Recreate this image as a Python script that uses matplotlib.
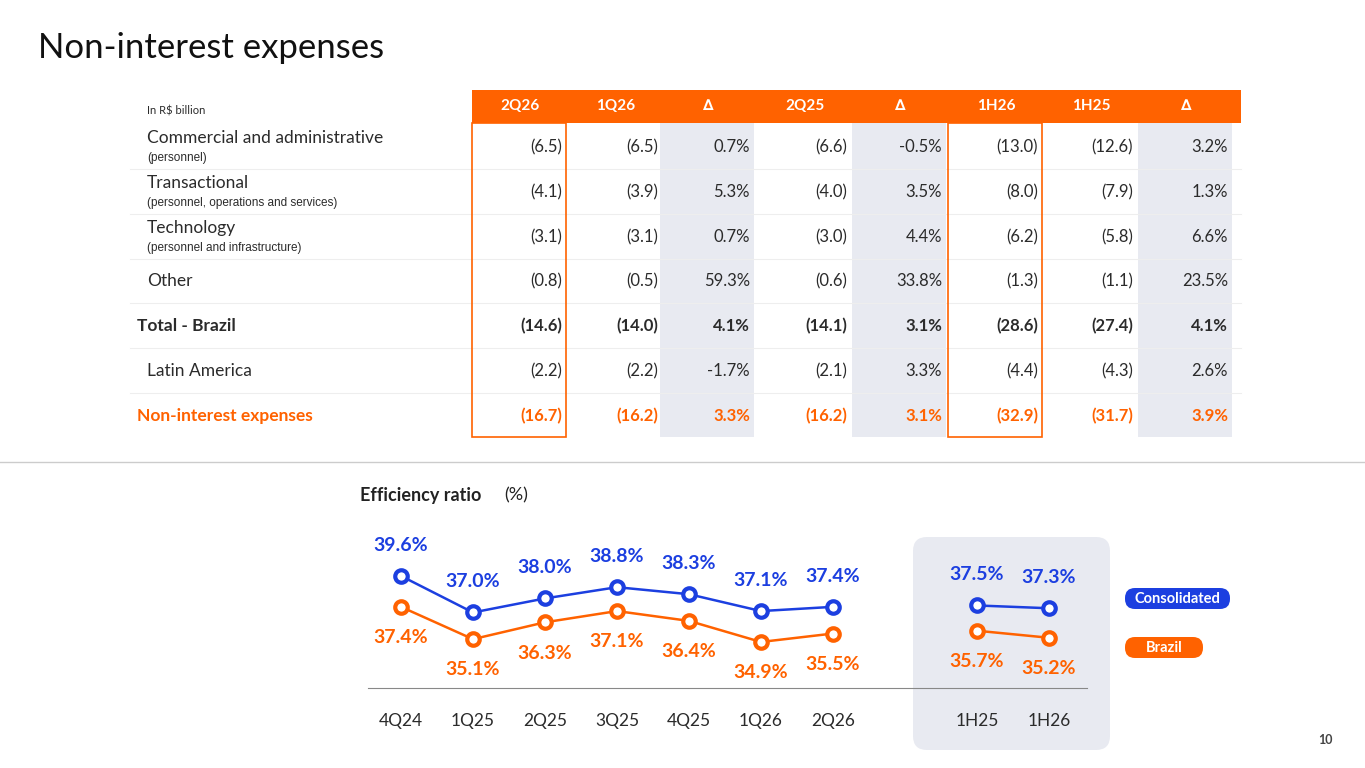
import matplotlib.pyplot as plt
from matplotlib.patches import Rectangle, FancyBboxPatch

ORANGE = '#ff6200'
BLUE = '#1c3fe0'
GREY = '#e8eaf1'
TXT = '#2b2b2b'
plt.rcParams['font.family'] = ['Lato', 'DejaVu Sans']

# table data
headers = ['2Q26', '1Q26', '∆', '2Q25', '∆', '1H26', '1H25', '∆']
row_labels = ['Commercial and administrative', 'Transactional', 'Technology', 'Other',
              'Total - Brazil', 'Latin America', 'Non-interest expenses']
row_subs = ['(personnel)', '(personnel, operations and services)', '(personnel and infrastructure)',
            '', '', '', '']
q2_26 = [-6.5, -4.1, -3.1, -0.8, -14.6, -2.2, -16.7]
q1_26 = [-6.5, -3.9, -3.1, -0.5, -14.0, -2.2, -16.2]
d_q = [0.7, 5.3, 0.7, 59.3, 4.1, -1.7, 3.3]
q2_25 = [-6.6, -4.0, -3.0, -0.6, -14.1, -2.1, -16.2]
d_y = [-0.5, 3.5, 4.4, 33.8, 3.1, 3.3, 3.1]
h1_26 = [-13.0, -8.0, -6.2, -1.3, -28.6, -4.4, -32.9]
h1_25 = [-12.6, -7.9, -5.8, -1.1, -27.4, -4.3, -31.7]
d_h = [3.2, 1.3, 6.6, 23.5, 4.1, 2.6, 3.9]
columns = [q2_26, q1_26, d_q, q2_25, d_y, h1_26, h1_25, d_h]
is_pct = [False, False, True, False, True, False, False, True]

# efficiency ratio data
periods = ['4Q24', '1Q25', '2Q25', '3Q25', '4Q25', '1Q26', '2Q26', '1H25', '1H26']
x_pos = [0, 1, 2, 3, 4, 5, 6, 8, 9]
consolidated = [39.6, 37.0, 38.0, 38.8, 38.3, 37.1, 37.4, 37.5, 37.3]
brazil = [37.4, 35.1, 36.3, 37.1, 36.4, 34.9, 35.5, 35.7, 35.2]

fig = plt.figure(figsize=(13.65, 7.68), dpi=100)
ov = fig.add_axes([0, 0, 1, 1])
ov.set_xlim(0, 1365)
ov.set_ylim(768, 0)
ov.axis('off')

ov.text(38, 48, 'Non-interest expenses', fontsize=25, color='#111', va='center')

# header
col_left = [472, 568, 660, 757, 852, 948, 1043, 1138]
col_w = 96
ov.add_patch(Rectangle((472, 90), 1241 - 472, 33, color=ORANGE, lw=0))
ov.text(147, 111, 'In R$ billion', fontsize=8, color=TXT, va='center')
for h, l in zip(headers, col_left):
    ov.text(l + col_w / 2, 106, h, color='white', fontsize=11, fontweight='bold',
            ha='center', va='center', family=['Lato', 'DejaVu Sans'])

# shaded delta columns and outlined boxes
for i in (2, 4, 7):
    ov.add_patch(Rectangle((col_left[i], 123), col_w - 2, 437 - 123, color=GREY, lw=0, zorder=0))
for i in (0, 5):
    ov.add_patch(Rectangle((col_left[i], 123), col_w - 2, 437 - 123, fill=False,
                           ec=ORANGE, lw=1.2, zorder=3))

row_y = [147, 192, 237, 281, 326, 371, 416]
for y in row_y[:-1]:
    ov.plot([130, 1241], [y + 22, y + 22], color='#eeeeee', lw=0.8, zorder=1)

for r, (lab, sub, y) in enumerate(zip(row_labels, row_subs, row_y)):
    bold = r in (4, 6)
    color = ORANGE if r == 6 else TXT
    x0 = 137 if bold else 147
    if sub:
        ov.text(x0, y - 9, lab, fontsize=12.5, color=color, va='center')
        ov.text(x0, y + 11, sub, fontsize=8.5, color=TXT, va='center', family='Liberation Sans')
    else:
        ov.text(x0, y, lab, fontsize=12.5, color=color, va='center',
                fontweight='bold' if bold else 'normal')
    for c, (vals, l) in enumerate(zip(columns, col_left)):
        v = vals[r]
        s = f'{v:.1f}%' if is_pct[c] else f'({abs(v):.1f})'
        ov.text(l + col_w - 6, y, s, fontsize=12, color=color, ha='right', va='center',
                fontweight='bold' if bold else 'normal')

ov.plot([0, 1365], [462, 462], color='#cccccc', lw=1)
ov.text(360, 495, 'Efficiency ratio', fontsize=13, fontweight='bold', color='#222', va='center')
ov.text(504, 495, '(%)', fontsize=13, color='#222', va='center')
ov.add_patch(FancyBboxPatch((913, 537), 197, 213, boxstyle='round,pad=0,rounding_size=14',
                            color=GREY, lw=0, zorder=0))
ov.plot([368, 1087], [688, 688], color='#888', lw=0.8)
ov.text(1325, 740, '10', fontsize=9, fontweight='bold', color='#444', ha='center', va='center')

# legend pills
for (txt, c, x, y, w) in [('Consolidated', BLUE, 1125, 588, 105), ('Brazil', ORANGE, 1125, 637, 78)]:
    ov.add_patch(FancyBboxPatch((x, y), w, 21, boxstyle='round,pad=0,rounding_size=10', color=c, lw=0))
    ov.text(x + w / 2, y + 11, txt, color='white', fontsize=10.5, fontweight='bold',
            ha='center', va='center')

# chart
ax = fig.add_axes([368 / 1365, 78 / 768, 722 / 1365, 150 / 768])
ax.patch.set_alpha(0)
ax.axis('off')
ax.set_xlim(-0.458, 9.57)
ax.set_ylim(31.48, 42.16)
for series, c, off, va in [(consolidated, BLUE, 16, 'bottom'), (brazil, ORANGE, -16, 'top')]:
    ax.plot(x_pos[:7], series[:7], color=c, lw=1.8)
    ax.plot(x_pos[7:], series[7:], color=c, lw=1.8)
    ax.plot(x_pos, series, 'o', ms=9, mfc='white', mec=c, mew=3)
    for x, v in zip(x_pos, series):
        ax.annotate(f'{v:.1f}%', (x, v), xytext=(0, off), textcoords='offset points',
                    ha='center', va=va, color=c, fontsize=14, fontweight='bold')
for x, p in zip(x_pos, periods):
    ax.text(x, 31.48 - 2.2, p, ha='center', va='center', fontsize=12.5, color=TXT)

fig.savefig('out.png', dpi=100)
